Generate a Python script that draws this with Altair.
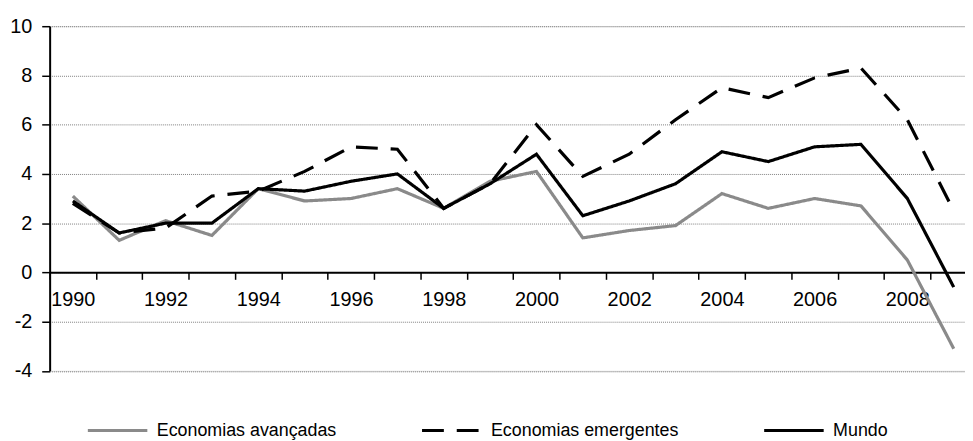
import altair as alt
import pandas as pd

years = list(range(1990, 2010))
avancadas = [3.1, 1.3, 2.1, 1.5, 3.4, 2.9, 3.0, 3.4, 2.6, 3.7, 4.1, 1.4, 1.7, 1.9, 3.2, 2.6, 3.0, 2.7, 0.5, -3.1]
emergentes = [2.8, 1.6, 1.8, 3.1, 3.3, 4.1, 5.1, 5.0, 2.6, 3.6, 6.0, 3.9, 4.8, 6.2, 7.5, 7.1, 7.9, 8.3, 6.2, 2.5]
mundo = [2.9, 1.6, 2.0, 2.0, 3.4, 3.3, 3.7, 4.0, 2.6, 3.6, 4.8, 2.3, 2.9, 3.6, 4.9, 4.5, 5.1, 5.2, 3.0, -0.6]

series_names = ["Economias avançadas", "Economias emergentes", "Mundo"]
series_colors = ["#8a8a8a", "#000000", "#000000"]
series_dash = [[1, 0], [22, 13], [1, 0]]
y_ticks = [-4, -2, 0, 2, 4, 6, 8, 10]
x_ticks = [y - 0.5 for y in years]

rows = []
for name, vals in zip(series_names, [avancadas, emergentes, mundo]):
    for yr, v in zip(years, vals):
        rows.append({"ano": yr, "valor": v, "serie": name})
df = pd.DataFrame(rows)

W = 923
H = 347.5
step = 46.75
x_max = 1989.5 + W / step
zero_from_top = H * 10 / 14

legend = alt.Legend(
    title=None,
    orient="none",
    legendX=37,
    legendY=376,
    direction="horizontal",
    symbolType="stroke",
    symbolSize=3600,
    symbolStrokeWidth=3,
    labelFont="Liberation Sans",
    labelFontSize=18,
    labelColor="#000000",
    labelOffset=8,
    columnPadding=79,
    padding=0,
    labelLimit=400,
)

chart = alt.Chart(df).mark_line(strokeWidth=3.2, strokeCap="butt", strokeJoin="miter").encode(
    x=alt.X(
        "ano:Q",
        scale=alt.Scale(domain=[1989.5, x_max], nice=False, zero=False),
        axis=alt.Axis(
            title=None,
            values=x_ticks,
            offset=-(H - zero_from_top),
            grid=False,
            domainColor="#000000",
            domainWidth=2,
            tickColor="#000000",
            tickWidth=1.5,
            tickSize=7,
            labelExpr="(datum.value + 0.5) % 2 == 0 ? '' + (datum.value + 0.5) : ''",
            labelOffset=step / 2,
            labelFlush=False,
            labelOverlap=False,
            labelFont="Liberation Sans",
            labelFontSize=20,
            labelColor="#000000",
            labelPadding=10,
        ),
    ),
    y=alt.Y(
        "valor:Q",
        scale=alt.Scale(domain=[-4, 10], nice=False, zero=False),
        axis=alt.Axis(
            title=None,
            values=y_ticks,
            grid=True,
            gridColor="#808080",
            gridDash=[1, 1],
            gridWidth=1,
            domainColor="#000000",
            domainWidth=2,
            tickColor="#000000",
            tickWidth=1.5,
            tickSize=8,
            labelExpr="'' + datum.value",
            labelFont="Liberation Sans",
            labelFontSize=20,
            labelColor="#000000",
            labelPadding=10,
        ),
    ),
    color=alt.Color(
        "serie:N",
        scale=alt.Scale(domain=series_names, range=series_colors),
        sort=series_names,
        legend=legend,
    ),
    strokeDash=alt.StrokeDash(
        "serie:N",
        scale=alt.Scale(domain=series_names, range=series_dash),
        sort=series_names,
        legend=legend,
    ),
    order=alt.Order("ano:Q"),
).properties(
    width=W,
    height=H,
    autosize=alt.AutoSizeParams(type="none"),
    padding={"left": 42, "top": 16.5, "right": 0, "bottom": 80},
).configure_view(
    stroke=None
).configure(background="#ffffff")

chart.save("out.html", embed_options={"renderer": "svg", "actions": False})
